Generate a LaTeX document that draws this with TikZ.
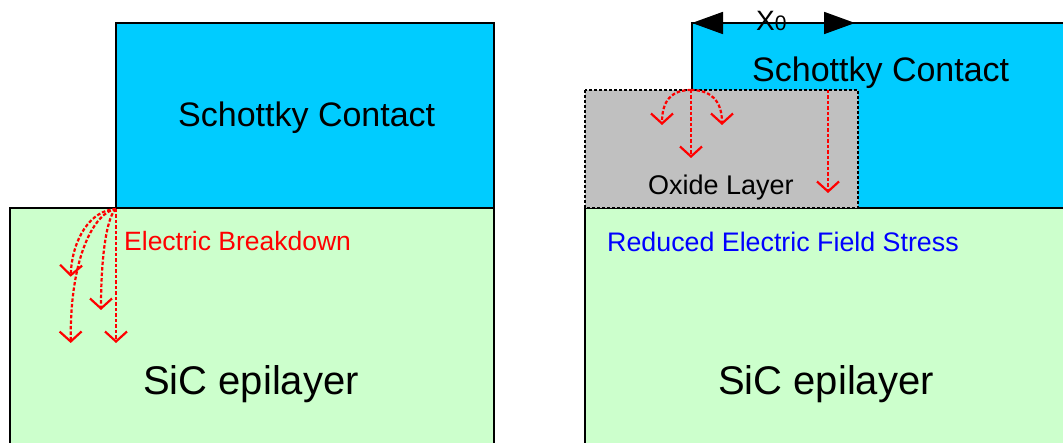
\documentclass[tikz,border=0pt]{standalone}
\usepackage{fontspec}
\setmainfont{Liberation Sans}
\usetikzlibrary{arrows.meta}
\definecolor{schottky}{HTML}{00CCFF}
\definecolor{sic}{HTML}{CCFFCC}
\definecolor{oxide}{HTML}{C0C0C0}
\tikzset{
  layer/.style={draw=black, line width=1.8pt},
  oxidebox/.style={draw=black, fill=oxide, line width=1.5pt, dash pattern=on 3pt off 2pt},
  field/.style={draw=red, line width=2.2pt, dash pattern=on 3.5pt off 2pt,
    -{Straight Barb[length=10pt,width=22pt,line width=2.2pt]}},
  lbl/.style={inner sep=0pt, anchor=base west},
  dimarrow/.style={line width=1.8pt, {Triangle[length=31pt,width=22pt]}-{Triangle[length=31pt,width=22pt]}}
}
\begin{document}
\begin{tikzpicture}[x=1pt,y=-1pt]
\useasboundingbox (0,0) rectangle (1063,443);
\clip (0,0) rectangle (1063,443);
% ---------- left device ----------
\draw[layer, fill=sic] (10,208) rectangle (494,470);
\draw[layer, fill=schottky] (116,23) rectangle (494,208);
\node[lbl, font=\fontsize{34}{40}\selectfont] (schL) at (178,127) {Schottky Contact};
\node[lbl, font=\fontsize{40}{48}\selectfont] (sicL) at (143,395) {SiC epilayer};
\node[lbl, font=\fontsize{26.5}{32}\selectfont, text=red] (ebd) at (124,251) {Electric Breakdown};
\coordinate (srcL) at (116,209);
\coordinate (tA) at (70.7,276.7);
\coordinate (tB) at (70.7,343);
\coordinate (tC) at (101,310);
\coordinate (tD) at (116,343);
\draw[field] (srcL) .. controls (90,210) and (72,240) .. (tA);
\draw[field] (srcL) .. controls (95,212) and (70,255) .. (tB);
\draw[field] (srcL) .. controls (108,215) and (101,250) .. (tC);
\draw[field] (srcL) -- (tD);
% ---------- right device ----------
\draw[layer, fill=sic] (585,208) rectangle (1080,470);
\draw[layer, fill=schottky] (692,23) rectangle (1080,208);
\draw[oxidebox] (585,90) rectangle (858,208);
\node[lbl, font=\fontsize{34}{40}\selectfont] (schR) at (752,82) {Schottky Contact};
\node[lbl, font=\fontsize{27}{32}\selectfont] (oxl) at (648,195) {Oxide Layer};
\node[lbl, font=\fontsize{26.8}{32}\selectfont, text=blue] (refs) at (607,252) {Reduced Electric Field Stress};
\node[lbl, font=\fontsize{40}{48}\selectfont] (sicR) at (718,395) {SiC epilayer};
\coordinate (dimL) at (692,23);
\coordinate (dimR) at (855,23);
\draw[dimarrow] (dimL) -- (dimR);
\node[lbl] (x0) at (756,31) {{\fontsize{28}{32}\selectfont X}{\fontsize{21}{24}\selectfont 0}};
\coordinate (srcR) at (691,90);
\coordinate (tE) at (691,158);
\coordinate (tF) at (662,125);
\coordinate (tG) at (722,125);
\coordinate (srcR2) at (828,90);
\coordinate (tH) at (828,193);
\draw[field] (srcR) -- (tE);
\draw[field] (srcR) .. controls (672,90) and (662,100) .. (tF);
\draw[field] (srcR) .. controls (710,90) and (722,100) .. (tG);
\draw[field] (srcR2) -- (tH);
\end{tikzpicture}
\end{document}
